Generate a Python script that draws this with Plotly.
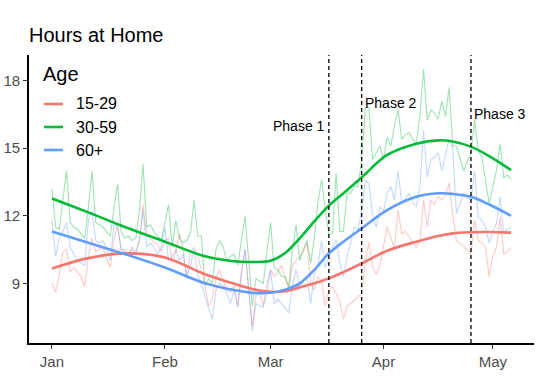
import plotly.graph_objects as go
import pandas as pd

# ---------------- data ----------------
age_groups = ["15-29", "30-59", "60+"]
group_colors = ["#F8766D", "#00BA38", "#619CFF"]
start_date = "2020-01-01"

hours_15_29 = [
    # Jan
    9.0, 8.6, 9.4, 10.4, 10.5, 9.5, 9.7, 9.5, 9.3, 8.85, 10.2, 11.0, 10.4, 10.5, 10.6, 10.1,
    9.7, 10.9, 11.6, 10.5, 10.5, 10.3, 10.6, 10.4, 10.9, 12.5, 11.2, 11.0, 10.8, 10.7, 10.4,
    # Feb
    10.9, 11.0, 9.95, 10.4, 11.2, 10.5, 9.2, 10.4, 10.6, 10.2, 9.6, 8.9, 8.0, 8.3, 9.2,
    9.6, 9.1, 8.7, 8.6, 8.9, 7.95, 9.4, 10.5, 8.9, 7.1, 8.5, 8.6, 8.0, 9.0,
    # Mar
    9.6, 9.3, 9.5, 9.8, 9.2, 8.8, 9.8, 10.0, 10.2, 10.4, 10.8, 9.0, 8.7, 9.3, 9.1, 8.0,
    8.7, 8.85, 8.55, 8.2, 7.4, 8.0, 8.1, 8.25, 8.4, 8.55, 10.0, 10.8, 9.7, 9.4, 9.8,
    # Apr
    10.6, 11.5, 11.0, 10.6, 12.25, 11.2, 11.3, 11.07, 10.8, 10.6, 10.9, 12.7, 11.5, 12.7, 12.5,
    12.85, 12.7, 12.9, 13.45, 12.0, 10.9, 10.77, 10.6, 10.5, 10.3, 11.8, 10.9, 10.8, 10.6, 9.3,
    # May
    10.2, 10.6, 11.95, 10.3, 10.4, 10.6,
]

hours_30_59 = [
    # Jan
    13.2, 11.5, 11.4, 12.6, 14.0, 11.7, 11.5, 11.4, 11.2, 11.0, 12.4, 14.0, 11.7, 11.6, 11.5, 11.3,
    11.1, 12.3, 13.4, 11.3, 11.0, 11.1, 10.9, 11.0, 12.2, 14.3, 11.5, 11.6, 11.3, 11.1, 10.9,
    # Feb
    11.7, 12.5, 10.6, 11.8, 11.0, 10.8, 10.9, 11.2, 12.7, 11.1, 11.1, 8.9, 9.2, 9.0, 10.5,
    10.9, 10.6, 10.0, 10.2, 10.3, 9.8, 10.8, 12.0, 10.0, 8.0, 9.2, 9.1, 9.0, 10.4,
    # Mar
    11.7, 9.7, 9.6, 9.3, 9.3, 8.85, 10.5, 11.6, 10.0, 10.5, 10.9, 9.9, 11.0, 12.6, 13.6, 12.3,
    11.2, 11.2, 13.9, 11.3, 11.3, 13.0, 13.0, 13.3, 13.3, 14.5, 16.8, 16.8, 14.5, 14.8, 15.1,
    # Apr
    14.5, 15.5, 15.1, 16.0, 16.7, 15.4, 15.6, 15.7, 15.4, 15.2, 16.5, 18.5, 16.25, 16.7, 16.55,
    16.3, 17.1, 16.4, 17.7, 15.1, 15.1, 14.6, 14.0, 14.4, 14.8, 16.25, 14.9, 14.6, 13.5, 12.55,
    # May
    13.3, 14.0, 15.2, 13.7, 13.8, 13.6,
]

hours_60_plus = [
    # Jan
    11.8, 10.2, 11.0, 11.3, 11.7, 10.6, 10.3, 10.0, 9.9, 9.8, 11.8, 12.2, 10.9, 10.8, 10.9, 10.5,
    10.0, 11.6, 11.5, 10.5, 10.4, 10.3, 10.5, 10.3, 10.9, 12.25, 10.6, 10.8, 10.6, 10.3, 10.6,
    # Feb
    11.5, 10.0, 10.2, 10.5, 10.0, 10.3, 9.3, 9.8, 10.5, 9.4, 9.0, 8.4, 7.9, 7.4, 8.7,
    9.0, 8.9, 8.55, 8.1, 8.7, 7.95, 9.5, 10.5, 8.7, 6.9, 8.1, 8.0, 7.95, 8.6,
    # Mar
    9.6, 8.1, 8.3, 8.1, 7.9, 7.7, 8.9, 9.6, 8.85, 9.1, 9.3, 8.1, 9.4, 9.8, 10.9, 9.7,
    10.2, 10.6, 10.9, 9.9, 9.3, 10.2, 10.8, 11.5, 11.4, 12.2, 13.6, 13.4, 12.0, 11.5, 12.4,
    # Apr
    12.2, 13.0, 13.3, 12.7, 14.0, 12.55, 12.8, 13.0, 12.6, 12.4, 13.3, 15.8, 13.7, 14.5, 14.6,
    14.8, 14.0, 14.7, 15.4, 15.0, 12.1, 12.55, 13.0, 12.8, 12.7, 14.0, 11.95, 11.8, 11.5, 10.8,
    # May
    11.3, 11.66, 12.85, 11.2, 11.4, 11.5,
]

# smoothed trend
smooth_dates = ["2020-01-01", "2020-01-11", "2020-01-21", "2020-02-01", "2020-02-12",
                "2020-02-20", "2020-02-25", "2020-03-01", "2020-03-05", "2020-03-09",
                "2020-03-13", "2020-03-17", "2020-03-21", "2020-03-26", "2020-04-02",
                "2020-04-10", "2020-04-16", "2020-04-20", "2020-04-25", "2020-04-30",
                "2020-05-06"]
smooth_15_29 = [9.66, 10.12, 10.33, 10.15, 9.4, 8.98, 8.75, 8.62, 8.65, 8.82, 9.0, 9.22,
                9.5, 9.88, 10.45, 10.85, 11.1, 11.22, 11.27, 11.28, 11.25]
smooth_30_59 = [12.77, 12.15, 11.5, 10.85, 10.2, 9.98, 9.95, 10.0, 10.35, 11.0, 11.75, 12.45,
                13.0, 13.7, 14.7, 15.2, 15.35, 15.3, 15.07, 14.65, 14.03]
smooth_60_plus = [11.3, 10.8, 10.3, 9.7, 9.0, 8.7, 8.58, 8.58, 8.72, 9.0, 9.6, 10.33,
                  10.85, 11.44, 12.25, 12.84, 13.0, 12.97, 12.84, 12.5, 12.0]

phase_labels = ["Phase 1", "Phase 2", "Phase 3"]
phase_dates = ["2020-03-17", "2020-03-26", "2020-04-25"]
phase_label_y = [16.0, 17.0, 16.5]

month_ticks = ["2020-01-01", "2020-02-01", "2020-03-01", "2020-04-01", "2020-05-01"]
month_labels = ["Jan", "Feb", "Mar", "Apr", "May"]
y_ticks = [9, 12, 15, 18]

# ---------------- figure ----------------
FONT = "Liberation Sans, Arial, sans-serif"
W, H = 556, 392
ML, MR, MT, MB = 29, 22, 55, 49
PW, PH = W - ML - MR, H - MT - MB

raw_series = [hours_15_29, hours_30_59, hours_60_plus]
smooth_series = [smooth_15_29, smooth_30_59, smooth_60_plus]
dates = pd.date_range(start_date, periods=len(hours_15_29), freq="D")

fig = go.Figure()
for name, col, vals in zip(age_groups, group_colors, raw_series):
    fig.add_trace(go.Scatter(x=dates, y=vals, mode="lines", name=name,
                             line=dict(color=col, width=1.1), opacity=0.38,
                             showlegend=False, hoverinfo="skip"))
for name, col, vals in zip(age_groups, group_colors, smooth_series):
    fig.add_trace(go.Scatter(x=smooth_dates, y=vals, mode="lines", name=name,
                             line=dict(color=col, width=2.6, shape="spline", smoothing=1.0),
                             showlegend=False))

shapes = []
annotations = []
for lab, d, yv in zip(phase_labels, phase_dates, phase_label_y):
    shapes.append(dict(type="line", xref="x", yref="paper", x0=d, x1=d, y0=0, y1=1,
                       line=dict(color="black", width=1.3, dash="4px,3px")))
for i, (lab, d, yv) in enumerate(zip(phase_labels, phase_dates, phase_label_y)):
    left = i > 0
    annotations.append(dict(x=d, y=yv, xref="x", yref="y", text=lab, showarrow=False,
                            xanchor="left" if left else "right", yanchor="middle",
                            xshift=1 if left else -2,
                            font=dict(family=FONT, size=14, color="black")))

# manual legend (ggplot style, inside plot)
def px_to_paper_x(px):
    return (px - ML) / PW

def py_to_paper_y(py):
    return (H - MB - py) / PH

annotations.append(dict(x=px_to_paper_x(41), y=py_to_paper_y(74), xref="paper", yref="paper",
                        text="Age", showarrow=False, xanchor="left", yanchor="middle",
                        font=dict(family=FONT, size=20, color="black")))
for i, (name, col) in enumerate(zip(age_groups, group_colors)):
    yy = py_to_paper_y(104 + 23 * i)
    shapes.append(dict(type="line", xref="paper", yref="paper",
                       x0=px_to_paper_x(44), x1=px_to_paper_x(63), y0=yy, y1=yy,
                       line=dict(color=col, width=2.6)))
    annotations.append(dict(x=px_to_paper_x(74), y=yy, xref="paper", yref="paper",
                            text=name, showarrow=False, xanchor="left", yanchor="middle",
                            font=dict(family=FONT, size=16, color="black")))

fig.update_layout(
    width=W, height=H,
    margin=dict(l=ML, r=MR, t=MT, b=MB, autoexpand=False),
    paper_bgcolor="white", plot_bgcolor="white",
    font=dict(family=FONT, color="black"),
    title=dict(text="Hours at Home", x=29 / W, xanchor="left", xref="container",
               y=1 - 35 / H, yanchor="middle", yref="container",
               font=dict(family=FONT, size=20, color="black")),
    shapes=shapes, annotations=annotations, showlegend=False,
    hovermode=False,
)
fig.update_xaxes(type="date", range=["2019-12-25 16:48", "2020-05-12 07:12"],
                 tickvals=month_ticks, ticktext=month_labels,
                 showline=True, linecolor="black", linewidth=1.6, mirror=False,
                 ticks="outside", ticklen=4, tickwidth=1.2, tickcolor="#333333",
                 tickfont=dict(family=FONT, size=15, color="#4D4D4D"),
                 showgrid=False, zeroline=False, automargin=False)
fig.update_yaxes(range=[6.35, 19.14], tickvals=y_ticks, ticktext=[str(v) for v in y_ticks],
                 showline=True, linecolor="black", linewidth=1.6, mirror=False,
                 ticks="outside", ticklen=4, tickwidth=1.2, tickcolor="#333333",
                 tickfont=dict(family=FONT, size=15, color="#4D4D4D"),
                 showgrid=False, zeroline=False, automargin=False)

fig.write_html("out.html", config={"displayModeBar": False},
               post_script="document.body.style.margin='0px';document.body.style.overflow='hidden';")
